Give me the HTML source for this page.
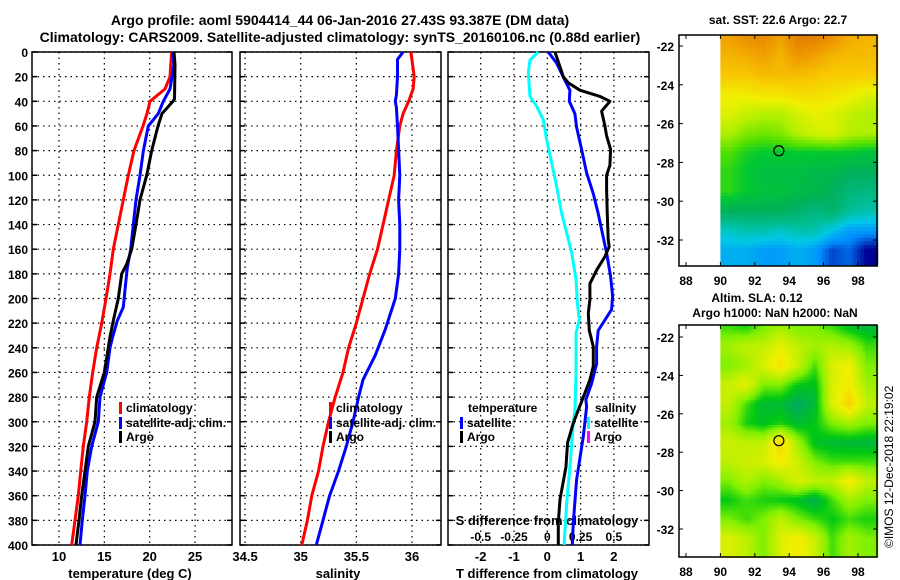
<!DOCTYPE html>
<html><head><meta charset="utf-8"><style>
body{margin:0;background:#fff}
svg{display:block;font-family:"Liberation Sans",sans-serif;font-weight:bold}
</style></head><body>
<svg id="s" width="900" height="580" viewBox="0 0 900 580"></svg>
<script>
// ---- data ----
const depthTicks=[0,20,40,60,80,100,120,140,160,180,200,220,240,260,280,300,320,340,360,380,400];
const tTicks=[10,15,20,25];
const sTicks=[34.5,35,35.5,36];
const dtTicks=[-2,-1,0,1,2];
const dsTicks=[-0.5,-0.25,0,0.25,0.5];
const dsTickLabels=["-0.5","-0.25","0","0.25","0.5"];
const tClimD=[0,20,30,40,50,60,80,100,120,140,160,180,200,220,240,260,280,300,320,340,360,380,400];
const tClimV=[22.42,22.24,21.69,20.03,19.7,19.26,18.27,17.64,17.09,16.54,15.99,15.62,15.18,14.71,14.16,13.72,13.34,13.05,12.68,12.39,12.13,11.76,11.4];
const tSatD=[0,10,30,40,50,60,80,100,120,140,160,175,185,207,218,231,240,260,280,300,320,340,360,380,400];
const tSatV=[22.53,22.68,22.24,21.5,20.95,19.85,19.3,18.93,18.49,18.19,17.9,17.53,17.39,17.09,16.43,15.92,15.62,15.26,14.52,14.33,13.6,13.12,12.87,12.57,12.32];
const tArgoD=[0,10,38,40,50,60,80,100,120,140,160,172,180,200,218,231,240,260,280,300,320,340,360,380,400];
const tArgoV=[22.68,22.79,22.73,22.57,21.36,20.92,20.22,19.67,18.93,18.49,18.02,17.46,16.91,16.54,15.99,15.62,15.44,15.0,14.16,13.97,13.23,12.87,12.5,12.2,11.87];
const sClimD=[0,20,30,40,50,60,80,100,120,140,160,180,200,220,240,260,280,300,320,340,360,380,400];
const sClimV=[35.99,36.02,36.01,35.97,35.92,35.89,35.86,35.84,35.79,35.74,35.69,35.62,35.56,35.5,35.43,35.38,35.31,35.25,35.2,35.16,35.1,35.06,35.01];
const sSatD=[0,6,20,35,40,45,60,100,120,140,160,180,200,225,246,266,280,300,320,340,360,380,400];
const sSatV=[35.92,35.87,35.87,35.86,35.85,35.86,35.87,35.89,35.88,35.89,35.89,35.88,35.85,35.76,35.67,35.56,35.52,35.47,35.41,35.34,35.26,35.2,35.14];
const dtSatD=[0,9,23,31,40,50,61,79,98,115,131,144,163,182,198,209,226,239,253,269,282,288,312,347,382,400];
const dtSatV=[0.03,0.28,0.53,0.68,0.66,0.83,0.88,1.03,1.18,1.38,1.53,1.63,1.78,1.9,1.96,1.93,1.53,1.48,1.48,1.33,1.16,1.18,1.08,0.88,0.78,0.75];
const dtArgoD=[0,12,20,25,31,36,40,48,60,68,79,92,100,111,130,152,158,166,177,188,201,212,226,239,255,266,280,301,317,337,363,382,400];
const dtArgoV=[0.23,0.38,0.48,0.63,0.98,1.58,1.88,1.63,1.73,1.78,1.9,1.88,1.78,1.78,1.8,1.83,1.86,1.73,1.48,1.28,1.28,1.23,1.26,1.38,1.38,1.28,1.08,0.78,0.61,0.56,0.38,0.33,0.33];
const dsSatD=[0,6.5,17,36,44,55,71,90,109,131,152,163,185,204,217,228,258,290,301,337,366,400];
const dsSatV=[-0.068,-0.13,-0.143,-0.13,-0.08,-0.03,-0.005,0.033,0.07,0.108,0.158,0.183,0.216,0.226,0.24,0.216,0.216,0.208,0.195,0.17,0.146,0.126];
const lonTicks=[88,90,92,94,96,98];
const latTicks=[-22,-24,-26,-28,-30,-32];
const sstGrid=[
[0.85,0.9,0.92,0.85,0.95,0.95,0.9,0.82,0.8],
[0.8,0.82,0.85,0.8,0.88,0.85,0.8,0.78,0.78],
[0.75,0.75,0.78,0.78,0.78,0.76,0.74,0.74,0.74],
[0.66,0.66,0.68,0.68,0.7,0.7,0.68,0.66,0.62],
[0.62,0.58,0.56,0.56,0.6,0.64,0.62,0.58,0.55],
[0.55,0.5,0.48,0.5,0.56,0.6,0.62,0.56,0.55],
[0.45,0.4,0.38,0.38,0.38,0.38,0.38,0.38,0.36],
[0.42,0.38,0.35,0.35,0.35,0.33,0.33,0.3,0.3],
[0.42,0.38,0.36,0.36,0.34,0.33,0.3,0.26,0.25],
[0.3,0.3,0.3,0.3,0.28,0.25,0.28,0.22,0.2],
[0.18,0.2,0.2,0.18,0.2,0.2,0.15,0.1,0.1],
[0.12,0.12,0.1,0.1,0.12,0.1,0.04,0.06,0.0]];
const slaGrid=[
[0.45,0.42,0.5,0.55,0.5,0.5,0.45,0.38,0.35],
[0.55,0.6,0.6,0.68,0.6,0.55,0.58,0.55,0.45],
[0.5,0.55,0.65,0.75,0.62,0.45,0.65,0.7,0.5],
[0.62,0.68,0.5,0.5,0.4,0.38,0.65,0.72,0.55],
[0.6,0.45,0.36,0.36,0.3,0.36,0.65,0.8,0.6],
[0.55,0.42,0.38,0.42,0.36,0.4,0.5,0.55,0.5],
[0.62,0.6,0.6,0.78,0.55,0.38,0.36,0.35,0.35],
[0.6,0.62,0.65,0.72,0.62,0.5,0.45,0.45,0.45],
[0.5,0.58,0.5,0.55,0.65,0.6,0.6,0.72,0.6],
[0.4,0.45,0.42,0.4,0.38,0.32,0.45,0.55,0.5],
[0.5,0.45,0.5,0.6,0.5,0.45,0.4,0.45,0.42],
[0.65,0.6,0.5,0.65,0.72,0.62,0.45,0.55,0.5]];
const argoLon=93.4, argoLat=-27.4;

// ---- helpers ----
const NS="http://www.w3.org/2000/svg";
const svg=document.getElementById('s');
function el(tag,attrs,parent){const e=document.createElementNS(NS,tag);for(const k in attrs)e.setAttribute(k,attrs[k]);(parent||svg).appendChild(e);return e;}
function txt(x,y,s,anchor,size,parent){const t=el('text',{x:x,y:y,'text-anchor':anchor||'middle','font-size':size||12},parent);t.textContent=s;return t;}
const TOP=52,BOT=545;
const yD=d=>TOP+(d/400)*(BOT-TOP);
const xT=v=>59+(v-10)*9.07;
const xS=v=>300.7+(v-35)*111.3;
const xDT=v=>547.3+v*33.3;
const xDS=v=>547.3+v*133.2;
const panels=[[32,232,'temperature-panel'],[240,441,'salinity-panel'],[448,649,'difference-panel']];

// titles
let t=txt(340,25,"Argo profile: aoml 5904414_44 06-Jan-2016 27.43S 93.387E (DM data)",'middle',14);

t=txt(340,42,"Climatology: CARS2009. Satellite-adjusted climatology: synTS_20160106.nc (0.88d earlier)",'middle',14);


panels.forEach(([l,r,name],pi)=>{
  const g=el('g',{});
  
  
  depthTicks.forEach(d=>{
    const ln=el('line',{x1:l,x2:r,y1:yD(d),y2:yD(d),stroke:'#000','stroke-width':1.2,'stroke-dasharray':'1.5,4'},g);
    
    
    el('line',{x1:l,x2:l+5,y1:yD(d),y2:yD(d),stroke:'#000','stroke-width':1.5},g);
    el('line',{x1:r-5,x2:r,y1:yD(d),y2:yD(d),stroke:'#000','stroke-width':1.5},g);
    if(pi===0){const tl=txt(l-4,yD(d)+5,String(d),'end',12,g);}
  });
  const xs = pi===0? tTicks.map(xT) : pi===1? sTicks.map(xS) : dtTicks.map(xDT);
  xs.forEach(x=>{
    const ln=el('line',{x1:x,x2:x,y1:TOP,y2:BOT,stroke:'#000','stroke-width':1.2,'stroke-dasharray':'1.5,4'},g);
    
    
  });
  el('rect',{x:l,y:TOP,width:r-l,height:BOT-TOP,fill:'none',stroke:'#000','stroke-width':1.5},g);
});
// x tick labels
tTicks.forEach(v=>{const e=txt(xT(v),561,String(v),'middle',13);});
sTicks.forEach(v=>{const e=txt(xS(v),561,String(v),'middle',13);});
dtTicks.forEach(v=>{const e=txt(xDT(v),561,String(v),'middle',13);});
dsTicks.forEach((v,i)=>{const e=txt(xDS(v),541,dsTickLabels[i],'middle',12);});
let e;
e=txt(130,578,"temperature (deg C)",'middle',13);
e=txt(338,578,"salinity",'middle',13);
e=txt(547,578,"T difference from climatology",'middle',13);
e=txt(547,525,"S difference from climatology",'middle',13);

function line(D,V,xf,color,name){
  const pts=D.map((d,i)=>xf(V[i]).toFixed(1)+','+yD(d).toFixed(1)).join(' ');
  const p=el('polyline',{points:pts,fill:'none',stroke:color,'stroke-width':3,'stroke-linejoin':'round'});
  
  
}
line(tClimD,tClimV,xT,'#f00','temperature-climatology-line');
line(tSatD,tSatV,xT,'#00f','temperature-satellite-line');
line(tArgoD,tArgoV,xT,'#000','temperature-argo-line');
line(sClimD,sClimV,xS,'#f00','salinity-climatology-line');
line(sSatD,sSatV,xS,'#00f','salinity-satellite-line');
line(dsSatD,dsSatV,xDS,'#0ff','s-diff-satellite-line');
line(dtSatD,dtSatV,xDT,'#00f','t-diff-satellite-line');
line(dtArgoD,dtArgoV,xDT,'#000','t-diff-argo-line');

function legend(x,y,color,label,name){
  const g=el('g',{});
  
  
  el('rect',{x:x,y:y-10,width:3,height:12,fill:color},g);
  txt(x+7,y,label,'start',12,g);
}
legend(119,412,'#f00','climatology','legend-climatology');
legend(119,427,'#00f','satellite-adj. clim.','legend-satellite-adj');
legend(119,441,'#000','Argo','legend-argo');
legend(329,412,'#f00','climatology','legend-s-climatology');
legend(329,427,'#00f','satellite-adj. clim.','legend-s-satellite-adj');
legend(329,441,'#000','Argo','legend-s-argo');
e=txt(468,412,"temperature",'start',12);
legend(460,427,'#00f','satellite','legend-t-satellite');
legend(460,441,'#000','Argo','legend-t-argo');
e=txt(595,412,"salinity",'start',12);
legend(587,427,'#0ff','satellite','legend-s-diff-satellite');
legend(587,441,'#f0f','Argo','legend-s-diff-argo');

// ---- maps ----
function cmapSST(v){
  const stops=[[0,[0,0,150]],[0.08,[0,140,255]],[0.15,[0,200,230]],[0.22,[0,190,150]],[0.3,[0,176,90]],[0.38,[0,200,50]],[0.45,[80,224,0]],[0.55,[176,240,0]],[0.65,[240,240,0]],[0.75,[248,200,0]],[0.85,[240,160,0]],[1,[220,110,0]]];
  return interpC(stops,v);
}
function cmapSLA(v){
  const stops=[[0.3,[0,168,100]],[0.4,[0,200,20]],[0.5,[128,240,0]],[0.6,[192,240,0]],[0.7,[240,240,0]],[0.8,[248,208,0]]];
  return interpC(stops,v);
}
function interpC(stops,v){
  if(v<=stops[0][0])return 'rgb('+stops[0][1]+')';
  for(let i=1;i<stops.length;i++){if(v<=stops[i][0]){const a=stops[i-1],b=stops[i],f=(v-a[0])/(b[0]-a[0]);return 'rgb('+a[1].map((c,k)=>Math.round(c+(b[1][k]-c)*f)).join(',')+')';}}
  return 'rgb('+stops[stops.length-1][1]+')';
}
function bil(G,r,c){
  r=Math.max(0,Math.min(G.length-1,r));c=Math.max(0,Math.min(G[0].length-1,c));
  const r0=Math.floor(r),c0=Math.floor(c),r1=Math.min(r0+1,G.length-1),c1=Math.min(c0+1,G[0].length-1),fr=r-r0,fc=c-c0;
  return G[r0][c0]*(1-fr)*(1-fc)+G[r0][c1]*(1-fr)*fc+G[r1][c0]*fr*(1-fc)+G[r1][c1]*fr*fc;
}
function map(top,bot,latY0,latY1,G,cm,name,cell){
  const L=679,R=877;
  const xL=v=>686+(v-88)*17.2;
  const yL=la=>latY0+(-22-la)*(latY1-latY0)/10;
  const g=el('g',{});
  
  
  const x0=xL(90);
  for(let y=top;y<bot;y+=cell){
    for(let x=x0;x<R;x+=cell){
      const lon=90+(x+cell/2-x0)/17.2;
      const lat=-22-((y+cell/2)-latY0)*10/(latY1-latY0);
      const v=bil(G,(-21.5-lat),lon-90.5);
      el('rect',{x:x,y:y,width:cell+0.3,height:cell+0.3,fill:cm(v)},g);
    }
  }
  el('rect',{x:L,y:top,width:R-L,height:bot-top,fill:'none',stroke:'#000','stroke-width':1.5},g);
  lonTicks.forEach(v=>{el('line',{x1:xL(v),x2:xL(v),y1:bot,y2:bot-4,stroke:'#000'},g);el('line',{x1:xL(v),x2:xL(v),y1:top,y2:top+4,stroke:'#000'},g);
    const tl=txt(xL(v),bot+19,String(v),'middle',12,g);});
  latTicks.forEach(v=>{el('line',{x1:L,x2:L+4,y1:yL(v),y2:yL(v),stroke:'#000'},g);el('line',{x1:R-4,x2:R,y1:yL(v),y2:yL(v),stroke:'#000'},g);
    const tl=txt(L-5,yL(v)+5,String(v),'end',12,g);});
  const c=el('circle',{cx:xL(argoLon),cy:yL(argoLat),r:5,fill:'none',stroke:'#000','stroke-width':1.2},g);
  
  
}
map(35,266,46,240,sstGrid,cmapSST,'sst-map',3.5);
map(325,557,337,529,slaGrid,cmapSLA,'sla-map',2.5);
e=txt(778,24,"sat. SST: 22.6 Argo: 22.7",'middle',12);
e=txt(757,302,"Altim. SLA: 0.12",'middle',12);
e=txt(775,317,"Argo h1000: NaN h2000: NaN",'middle',12);
e=el('text',{x:0,y:0,transform:'translate(893,548) rotate(-90)','font-size':12,'font-weight':'normal','text-anchor':'start'});
e.textContent="©IMOS 12-Dec-2018 22:19:02";


</script>
</body></html>
